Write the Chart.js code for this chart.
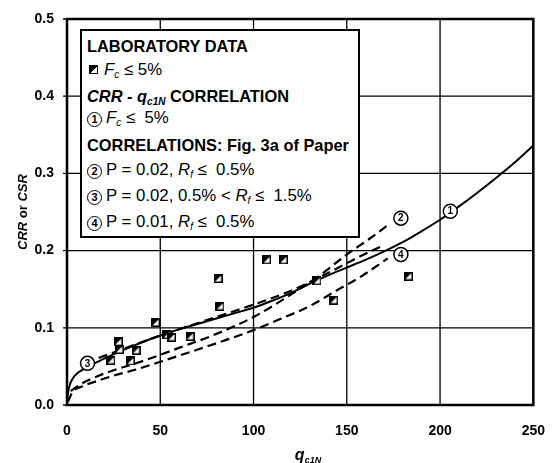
<!DOCTYPE html>
<html>
<head>
<meta charset="utf-8">
<script src="https://cdn.jsdelivr.net/npm/chart.js@4.4.1/dist/chart.umd.min.js"></script>
<style>
    html, body { margin: 0; padding: 0; background: #fff; }
    #wrap { position: relative; width: 555px; height: 463px; font-family: "Liberation Sans", Arial, sans-serif; color: #000; }
    #chart { position: absolute; left: 0; top: 0; }
    .legend-box { position: absolute; left: 80px; top: 29px; width: 276px; height: 205px; border: 2px solid #000; background: #fff; }
    .row { position: absolute; left: 5px; white-space: nowrap; font-size: 16.8px; line-height: 20px; }
    .row.bold { font-weight: bold; font-size: 16.4px; }
    .row sub { font-size: 10px; vertical-align: -3px; line-height: 0; }
    .num { display: inline-block; width: 13px; height: 13px; border: 1.5px solid #000; border-radius: 50%; font-size: 11px; font-weight: bold; line-height: 13px; text-align: center; vertical-align: 0px; margin-right: 4px; }
    .sq { display: inline-block; width: 7px; height: 7px; border: 1px solid #000; background: linear-gradient(to bottom right, #000 50%, #fff 50%); margin: 0 6px 0 2px; vertical-align: 1px; }
    .ytitle { position: absolute; left: 14px; top: 170px; width: 18px; height: 84px; writing-mode: vertical-rl; transform: rotate(180deg); text-align: center; font-size: 13px; font-weight: bold; line-height: 18px; white-space: nowrap; }
    .xtitle { position: absolute; left: 288px; top: 446px; width: 40px; text-align: center; font-size: 16px; font-weight: bold; font-style: italic; line-height: 18px; white-space: nowrap; }
    .xtitle sub { font-size: 9px; vertical-align: -3px; line-height: 0; }
</style>
</head>
<body>
<div id="wrap">
    <canvas id="chart" width="555" height="463"></canvas>
    <div class="legend-box">
        <div class="row bold" style="top:5px">LABORATORY DATA</div>
        <div class="row" style="top:29px"><span class="sq"></span><i>F<sub>c</sub></i> ≤ 5%</div>
        <div class="row bold" style="top:55px"><i>CRR</i> - <i>q<sub>c1N</sub></i> CORRELATION</div>
        <div class="row" style="top:77px"><span class="num">1</span><i>F<sub>c</sub></i> ≤&nbsp; 5%</div>
        <div class="row bold" style="top:104px">CORRELATIONS: Fig. 3a of Paper</div>
        <div class="row" style="top:129px"><span class="num">2</span>P = 0.02, <i>R<sub>f</sub></i> ≤&nbsp; 0.5%</div>
        <div class="row" style="top:155px"><span class="num">3</span>P = 0.02, 0.5% &lt; <i>R<sub>f</sub></i> ≤&nbsp; 1.5%</div>
        <div class="row" style="top:181px"><span class="num">4</span>P = 0.01, <i>R<sub>f</sub></i> ≤&nbsp; 0.5%</div>
    </div>
    <div class="ytitle"><i>CRR</i> or <i>CSR</i></div>
    <div class="xtitle">q<sub>c1N</sub></div>
</div>
<script>
// laboratory data, Fc <= 5%
const labQ = [23.5, 27.5, 28, 34, 37, 47.5, 53.5, 56, 66, 81, 82, 107, 116, 134, 143, 183];
const labCrr = [0.058, 0.082, 0.072, 0.057, 0.071, 0.107, 0.091, 0.088, 0.089, 0.164, 0.128, 0.188, 0.188, 0.161, 0.136, 0.167];

// curve 1: CRR - qc1N correlation (solid)
const q1 = [0, 1, 3, 6, 10, 20, 30, 40, 50, 60, 70, 80, 90, 100, 110, 120, 130, 140, 150, 160, 170, 180, 190, 200, 210, 220, 230, 240, 250];
const crr1 = [0.005, 0.022, 0.034, 0.042, 0.048, 0.06, 0.071, 0.081, 0.09, 0.098, 0.105, 0.112, 0.119, 0.126, 0.135, 0.145, 0.157, 0.168, 0.178, 0.188, 0.199, 0.211, 0.225, 0.24, 0.257, 0.275, 0.294, 0.314, 0.336];

// curve 2: P = 0.02, Rf <= 0.5%
const q2 = [2, 8, 16, 25, 37, 50, 60, 78, 100, 120, 135, 150, 162, 172];
const crr2 = [0.018, 0.028, 0.037, 0.045, 0.054, 0.065, 0.074, 0.09, 0.114, 0.143, 0.167, 0.195, 0.215, 0.233];

// curve 3: P = 0.02, 0.5% < Rf <= 1.5%
const q3 = [17, 25, 35, 50, 65, 80, 100, 120, 140, 155, 168];
const crr3 = [0.061, 0.068, 0.077, 0.09, 0.102, 0.114, 0.13, 0.148, 0.171, 0.19, 0.205];

// curve 4: P = 0.01, Rf <= 0.5%
const q4 = [0.5, 3, 8, 16, 25, 37, 50, 69, 85, 100, 113, 130, 145, 158, 172];
const crr4 = [0.004, 0.017, 0.024, 0.031, 0.038, 0.046, 0.056, 0.071, 0.084, 0.097, 0.11, 0.128, 0.149, 0.167, 0.19];

// circled curve numbers
const tagText = ['1', '2', '3', '4'];
const tagQ = [205.5, 179, 11, 179];
const tagCrr = [0.251, 0.242, 0.054, 0.195];

const xTicks = [0, 50, 100, 150, 200, 250];
const yTicks = [0.0, 0.1, 0.2, 0.3, 0.4, 0.5];

const pts = (xs, ys) => xs.map((x, i) => ({ x, y: ys[i] }));

// half filled square marker
function makeSquare(size) {
    const c = document.createElement('canvas');
    c.width = size; c.height = size;
    const g = c.getContext('2d');
    g.fillStyle = '#fff';
    g.fillRect(0, 0, size, size);
    g.fillStyle = '#000';
    g.beginPath();
    g.moveTo(0, 0); g.lineTo(size, 0); g.lineTo(0, size); g.closePath();
    g.fill();
    g.strokeStyle = '#000';
    g.lineWidth = 1.5;
    g.strokeRect(0.75, 0.75, size - 1.5, size - 1.5);
    return c;
}

// frame, grid lines and outward y ticks; grid goes behind what is already drawn
const frame = {
    id: 'frame',
    afterDraw(chart) {
        const { ctx, chartArea: a, scales } = chart;
        ctx.save();
        ctx.setLineDash([]);
        ctx.strokeStyle = '#000';
        ctx.lineWidth = 2.5;
        ctx.strokeRect(a.left, a.top, a.right - a.left, a.bottom - a.top);

        ctx.globalCompositeOperation = 'destination-over';
        ctx.lineWidth = 1.3;
        ctx.beginPath();
        xTicks.forEach(v => {
            const px = scales.x.getPixelForValue(v);
            ctx.moveTo(px, a.top);
            ctx.lineTo(px, a.bottom);
        });
        yTicks.forEach(v => {
            const py = scales.y.getPixelForValue(v);
            ctx.moveTo(a.left - 4, py);
            ctx.lineTo(a.right, py);
        });
        ctx.stroke();
        ctx.restore();
    }
};

const tagLabels = {
    id: 'tagLabels',
    afterDatasetsDraw(chart) {
        const meta = chart.getDatasetMeta(0);
        const ctx = chart.ctx;
        ctx.save();
        ctx.fillStyle = '#000';
        ctx.font = 'bold 10px "Liberation Sans", Arial, sans-serif';
        ctx.textAlign = 'center';
        ctx.textBaseline = 'middle';
        meta.data.forEach((el, i) => ctx.fillText(tagText[i], el.x, el.y + 0.5));
        ctx.restore();
    }
};

const lineStyle = (data, dash, order) => ({
    type: 'scatter',
    data,
    showLine: true,
    borderColor: '#000',
    borderWidth: dash ? 2.2 : 2,
    borderDash: dash ? [9, 5] : [],
    pointRadius: 0,
    cubicInterpolationMode: 'monotone',
    order
});

const tickFont = { family: '"Liberation Sans", Arial, sans-serif', size: 14, weight: 'bold' };

new Chart(document.getElementById('chart'), {
    type: 'scatter',
    data: {
        datasets: [
            {
                data: pts(tagQ, tagCrr),
                pointRadius: 7,
                pointBackgroundColor: '#fff',
                pointBorderColor: '#000',
                pointBorderWidth: 1.5,
                order: 0
            },
            {
                data: pts(labQ, labCrr),
                pointStyle: makeSquare(9),
                order: 1
            },
            lineStyle(pts(q1, crr1), false, 2),
            lineStyle(pts(q2, crr2), true, 3),
            lineStyle(pts(q3, crr3), true, 4),
            lineStyle(pts(q4, crr4), true, 5)
        ]
    },
    options: {
        responsive: false,
        animation: false,
        devicePixelRatio: 1,
        layout: { padding: { top: 19, right: 16, left: 0, bottom: 0 } },
        plugins: { legend: { display: false }, tooltip: { enabled: false } },
        scales: {
            x: {
                type: 'linear',
                min: 0, max: 250,
                afterFit: (s) => { s.height = 58; },
                afterBuildTicks: (s) => { s.ticks = xTicks.map(v => ({ value: v })); },
                grid: { display: false },
                border: { display: false },
                ticks: { color: '#000', padding: 10, font: tickFont }
            },
            y: {
                type: 'linear',
                min: 0, max: 0.5,
                afterFit: (s) => { s.width = 67; },
                afterBuildTicks: (s) => { s.ticks = yTicks.map(v => ({ value: v })); },
                grid: { display: false },
                border: { display: false },
                ticks: { color: '#000', padding: 5, font: tickFont, callback: (v) => v.toFixed(1) }
            }
        }
    },
    plugins: [tagLabels, frame]
});
</script>
</body>
</html>
